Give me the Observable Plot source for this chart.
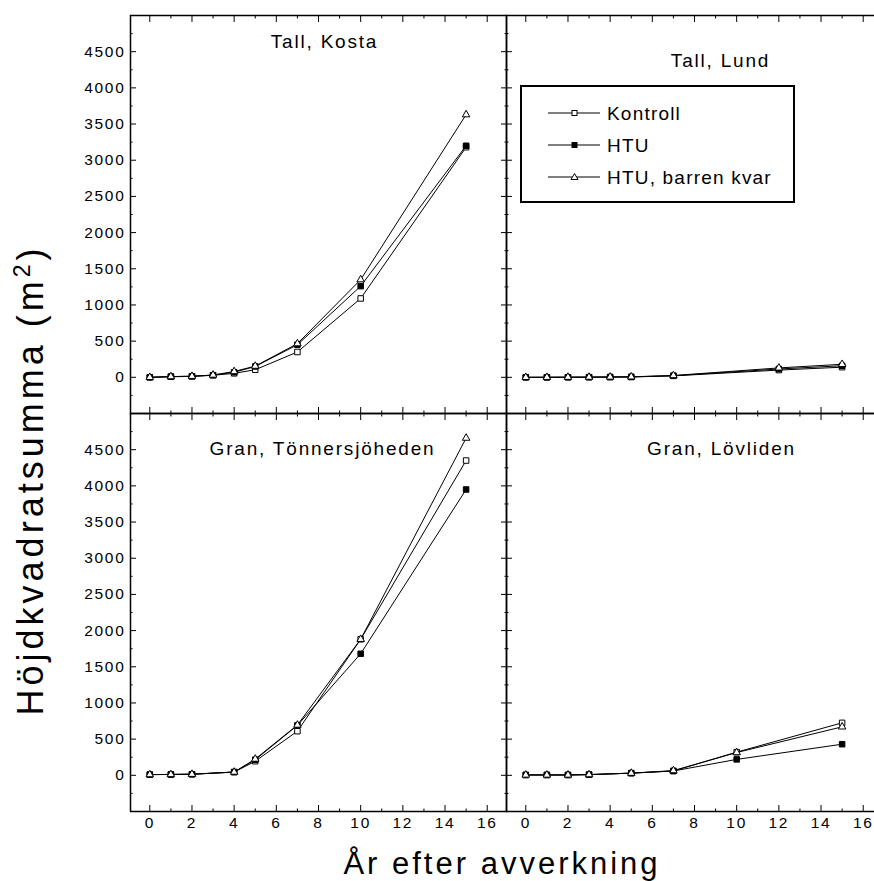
<!DOCTYPE html>
<html>
<head>
<meta charset="utf-8">
<script src="https://cdn.jsdelivr.net/npm/d3@7"></script>
<script src="https://cdn.jsdelivr.net/npm/@observablehq/plot@0.6"></script>
<style>
  html, body { margin: 0; padding: 0; background: #fff; overflow: hidden; }
  #wrap { position: relative; width: 874px; height: 881px; overflow: hidden; font-family: "Liberation Sans", Arial, sans-serif; }
  #chart { position: absolute; left: 0; top: 0; width: 890px; }
  #chart svg { max-width: none !important; height: 881px !important; }
  #chart g[aria-label$="tick label"] text { letter-spacing: 1.7px; }
  #chart g[aria-label="text"] text { letter-spacing: 1.8px; }
  #overlay { position: absolute; left: 0; top: 0; pointer-events: none; }
  #overlay text { font-family: "Liberation Sans", Arial, sans-serif; fill: #000; }
</style>
</head>
<body>
<div id="wrap">
  <div id="chart"></div>
  <svg id="overlay" width="874" height="881"></svg>
</div>
<script>
// ---- data ----
const series = ["Kontroll", "HTU", "HTU, barren kvar"];
const sites = ["Tall, Kosta", "Tall, Lund", "Gran, Tönnersjöheden", "Gran, Lövliden"];

const kostaYears = [0, 1, 2, 3, 4, 5, 7, 10, 15];
const kostaKontroll = [0, 8, 12, 28, 55, 105, 350, 1090, 3180];
const kostaHTU = [0, 10, 15, 30, 70, 150, 450, 1260, 3200];
const kostaBarren = [0, 10, 15, 32, 80, 155, 465, 1350, 3630];

const lundYears = [0, 1, 2, 3, 4, 5, 7, 12, 15];
const lundKontroll = [0, 0, 1, 2, 3, 5, 20, 100, 140];
const lundHTU = [0, 0, 1, 2, 4, 6, 22, 115, 160];
const lundBarren = [0, 1, 2, 3, 5, 7, 25, 130, 180];

const tonYears = [0, 1, 2, 4, 5, 7, 10, 15];
const tonKontroll = [10, 12, 15, 45, 195, 610, 1880, 4350];
const tonHTU = [10, 12, 15, 45, 215, 690, 1680, 3950];
const tonBarren = [10, 12, 15, 45, 225, 695, 1880, 4660];

const lovYears = [0, 1, 2, 3, 5, 7, 10, 15];
const lovKontroll = [5, 5, 5, 10, 30, 60, 320, 725];
const lovHTU = [5, 5, 5, 10, 30, 60, 220, 430];
const lovBarren = [5, 5, 5, 10, 30, 65, 315, 670];

const xTicks = [0, 2, 4, 6, 8, 10, 12, 14, 16];
const xMinorTicks = [1, 3, 5, 7, 9, 11, 13, 15];
const yTicks = [0, 500, 1000, 1500, 2000, 2500, 3000, 3500, 4000, 4500];
const yMinorTicks = [-250, 250, 750, 1250, 1750, 2250, 2750, 3250, 3750, 4250, 4750];

const xTitle = "År efter avverkning";
const yTitle = "Höjdkvadratsumma (m";
const yTitleSup = "2";

// ---- assemble table ----
const years = [kostaYears, lundYears, tonYears, lovYears];
const values = [
  [kostaKontroll, kostaHTU, kostaBarren],
  [lundKontroll, lundHTU, lundBarren],
  [tonKontroll, tonHTU, tonBarren],
  [lovKontroll, lovHTU, lovBarren]
];
const rows = [];
sites.forEach((site, i) => {
  series.forEach((ser, j) => {
    values[i][j].forEach((v, k) => {
      rows.push({site, col: i % 2, row: Math.floor(i / 2), series: ser, year: years[i][k], value: v});
    });
  });
});
const titleRows = sites.map((site, i) => ({site, col: i % 2, row: Math.floor(i / 2)}));

const tickOpts = {tickFormat: () => "", label: null, facetAnchor: null, stroke: "black", strokeWidth: 1};
const titleOffsets = [[6, 26.5], [26, 45], [4, 35], [27, 35]];

const chart = Plot.plot({
  width: 890,
  height: 881,
  marginLeft: 130,
  marginRight: 8,
  marginTop: 15,
  marginBottom: 70,
  x: {domain: [-0.915, 16.915], axis: null},
  y: {domain: [-500, 5000], axis: null},
  fx: {domain: [0, 1], axis: null, padding: 0},
  fy: {domain: [0, 1], axis: null, padding: 0},
  style: {fontFamily: "Liberation Sans, Arial, sans-serif", fontSize: "15.5px", color: "black", background: "white", maxWidth: "none"},
  marks: [
    // inward major/minor ticks on every panel edge
    Plot.axisX(xTicks, {...tickOpts, anchor: "bottom", tickSize: -6}),
    Plot.axisX(xTicks, {...tickOpts, anchor: "top", tickSize: -6}),
    Plot.axisX(xMinorTicks, {...tickOpts, anchor: "bottom", tickSize: -2.5}),
    Plot.axisX(xMinorTicks, {...tickOpts, anchor: "top", tickSize: -2.5}),
    Plot.axisY(yTicks, {...tickOpts, anchor: "left", tickSize: -6}),
    Plot.axisY(yTicks, {...tickOpts, anchor: "right", tickSize: -6}),
    Plot.axisY(yMinorTicks, {...tickOpts, anchor: "left", tickSize: -2.5}),
    Plot.axisY(yMinorTicks, {...tickOpts, anchor: "right", tickSize: -2.5}),
    // tick labels
    Plot.axisX(xTicks, {anchor: "bottom", tickSize: 0, tickPadding: 5, tickFormat: d3.format("d"), label: null, facetAnchor: "bottom", fill: "black"}),
    Plot.axisY(yTicks, {anchor: "left", tickSize: 0, tickPadding: 5, tickFormat: d3.format("d"), label: null, facetAnchor: "left", fill: "black"}),
    Plot.frame({stroke: "black", strokeWidth: 1.5}),
    // series
    Plot.line(rows, {x: "year", y: "value", z: "series", fx: "col", fy: "row", stroke: "black", strokeWidth: 1}),
    Plot.dot(rows.filter(d => d.series === series[0]), {x: "year", y: "value", fx: "col", fy: "row", symbol: "square", r: 3.1, fill: "white", stroke: "black", strokeWidth: 1}),
    Plot.dot(rows.filter(d => d.series === series[1]), {x: "year", y: "value", fx: "col", fy: "row", symbol: "square", r: 3.1, fill: "black", stroke: "black", strokeWidth: 1}),
    Plot.dot(rows.filter(d => d.series === series[2]), {x: "year", y: "value", fx: "col", fy: "row", symbol: "triangle", r: 2.8, fill: "white", stroke: "black", strokeWidth: 1}),
    // panel titles
    ...titleRows.map((t, i) => Plot.text([t], {
      text: "site", fx: "col", fy: "row", frameAnchor: "top",
      dx: titleOffsets[i][0], dy: titleOffsets[i][1], lineAnchor: "middle",
      fontSize: 19, fill: "black"
    }))
  ]
});
document.getElementById("chart").appendChild(chart);

// ---- overlay: axis titles and legend ----
const ov = d3.select("#overlay");
ov.append("text")
  .attr("x", 502).attr("y", 874)
  .attr("text-anchor", "middle")
  .style("font-size", "31px").style("letter-spacing", "3px")
  .text(xTitle);
const yt = ov.append("text")
  .attr("transform", "translate(43,480) rotate(-90)")
  .attr("text-anchor", "middle")
  .style("font-size", "36px").style("letter-spacing", "4px");
yt.append("tspan").text(yTitle);
yt.append("tspan").attr("baseline-shift", "super").style("font-size", "23px").text(yTitleSup);
yt.append("tspan").text(")");

const lg = ov.append("g");
lg.append("rect").attr("x", 521).attr("y", 86).attr("width", 273).attr("height", 116)
  .attr("fill", "white").attr("stroke", "black").attr("stroke-width", 2);
series.forEach((s, i) => {
  const cy = 113 + i * 32;
  lg.append("line").attr("x1", 548).attr("x2", 600).attr("y1", cy).attr("y2", cy).attr("stroke", "black").attr("stroke-width", 1);
  if (i < 2) {
    lg.append("rect").attr("x", 572).attr("y", cy - 2.5).attr("width", 5).attr("height", 5)
      .attr("fill", i === 0 ? "white" : "black").attr("stroke", "black").attr("stroke-width", 1);
  } else {
    lg.append("path").attr("d", `M574.5,${cy - 3.5}L578,${cy + 2.5}L571,${cy + 2.5}Z`)
      .attr("fill", "white").attr("stroke", "black").attr("stroke-width", 1);
  }
  lg.append("text").attr("x", 607).attr("y", cy + 7)
    .style("font-size", "19px").style("letter-spacing", "1.2px").text(s);
});
</script>
</body>
</html>
